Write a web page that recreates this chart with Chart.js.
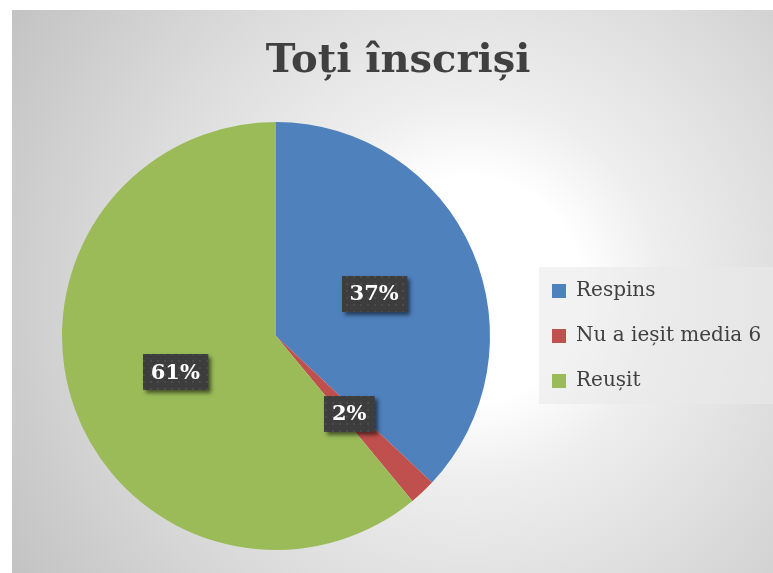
<!DOCTYPE html>
<html>
<head>
<meta charset="utf-8">
<script src="https://cdn.jsdelivr.net/npm/chart.js@4"></script>
<style>
  html, body { margin: 0; padding: 0; background: #ffffff; }
  canvas { display: block; }
</style>
</head>
<body>
<canvas id="c" width="773" height="573"></canvas>
<script>
const titleText = "Toți înscriși";
const categories = ["Respins", "Nu a ieșit media 6", "Reușit"];
const values = [37, 2, 61];
const colors = ["#4F81BD", "#C0504D", "#9BBB59"];

// background frame with radial gradient + legend panel
const bgPlugin = {
  id: 'bg',
  beforeDraw(chart) {
    const ctx = chart.ctx;
    ctx.save();
    ctx.fillStyle = '#ffffff';
    ctx.fillRect(0, 0, chart.width, chart.height);
    const g = ctx.createRadialGradient(470, 290, 0, 470, 290, 560);
    g.addColorStop(0, '#ffffff');
    g.addColorStop(0.2, '#ffffff');
    g.addColorStop(0.34, '#eeeeee');
    g.addColorStop(0.63, '#dadada');
    g.addColorStop(0.77, '#d0d0d0');
    g.addColorStop(1, '#c0c0c0');
    ctx.fillStyle = g;
    ctx.fillRect(12, 10, chart.width - 12, chart.height - 10);
    const lg = chart.legend;
    if (lg && lg.legendHitBoxes && lg.legendHitBoxes.length) {
      const hb = lg.legendHitBoxes;
      const top = hb[0].top - 14;
      const bottom = hb[hb.length - 1].top + hb[hb.length - 1].height + 13;
      ctx.fillStyle = 'rgba(233,233,233,0.6)';
      ctx.fillRect(lg.left + 12, top, chart.width - lg.left - 12, bottom - top);
    }
    ctx.restore();
  }
};

// data labels in dark patterned boxes
function makePattern(ctx) {
  const p = document.createElement('canvas');
  p.width = 7; p.height = 7;
  const pc = p.getContext('2d');
  pc.fillStyle = '#3d3d3d';
  pc.fillRect(0, 0, 7, 7);
  pc.fillStyle = '#4b4b4b';
  pc.fillRect(3, 3, 2, 2);
  return ctx.createPattern(p, 'repeat');
}
const labelPlugin = {
  id: 'pctLabels',
  afterDatasetsDraw(chart) {
    const ctx = chart.ctx;
    const meta = chart.getDatasetMeta(0);
    const data = chart.data.datasets[0].data;
    const total = data.reduce((a, b) => a + b, 0);
    const pattern = makePattern(ctx);
    meta.data.forEach((arc, i) => {
      const pos = arc.tooltipPosition();
      const txt = Math.round(data[i] / total * 100) + '%';
      ctx.save();
      ctx.font = 'bold 21px "DejaVu Serif"';
      const w = ctx.measureText(txt).width + 16;
      const h = 36;
      const x = Math.round(pos.x - w / 2), y = Math.round(pos.y - h / 2);
      ctx.shadowColor = 'rgba(0,0,0,0.55)';
      ctx.shadowBlur = 4;
      ctx.shadowOffsetX = 3;
      ctx.shadowOffsetY = 3;
      ctx.fillStyle = '#3d3d3d';
      ctx.fillRect(x, y, w, h);
      ctx.shadowColor = 'transparent';
      ctx.fillStyle = pattern;
      ctx.fillRect(x, y, w, h);
      ctx.fillStyle = '#ffffff';
      ctx.textAlign = 'center';
      ctx.textBaseline = 'middle';
      ctx.fillText(txt, pos.x, pos.y + 1);
      ctx.restore();
    });
  }
};

const chart = new Chart(document.getElementById('c'), {
  type: 'pie',
  data: {
    labels: categories,
    datasets: [{
      data: values,
      backgroundColor: colors,
      borderWidth: 0
    }]
  },
  options: {
    responsive: false,
    animation: false,
    devicePixelRatio: 1,
    layout: { padding: { top: 10, bottom: 23, left: 25, right: 0 } },
    plugins: {
      title: {
        display: true,
        text: titleText,
        color: '#404040',
        font: { family: '"DejaVu Serif"', size: 40, weight: 'bold', lineHeight: 1.2 },
        padding: { top: 28, bottom: 36 }
      },
      legend: {
        display: true,
        position: 'right',
        align: 'center',
        fullSize: false,
        labels: {
          color: '#404040',
          font: { family: '"DejaVu Serif"', size: 20 },
          boxWidth: 14,
          boxHeight: 14,
          padding: 25
        }
      },
      tooltip: { enabled: false }
    }
  },
  plugins: [bgPlugin, labelPlugin]
});
chart.options.layout.padding.right = 246 - chart.legend.width;
chart.update();
</script>
</body>
</html>
